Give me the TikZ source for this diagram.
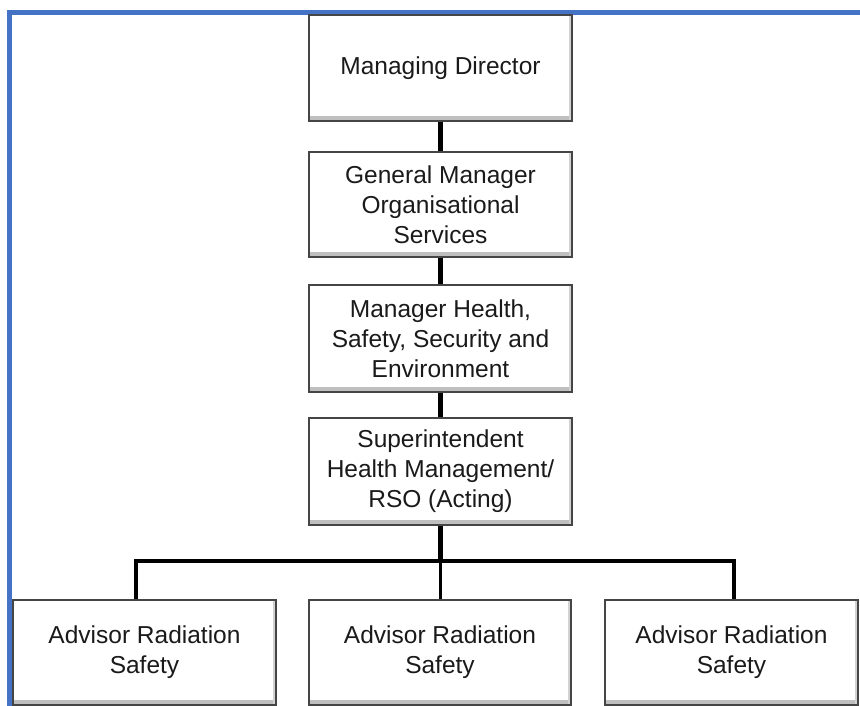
\documentclass[tikz,border=0pt]{standalone}
\usepackage{fontspec}
\setmainfont{Liberation Sans}
\definecolor{frameblue}{HTML}{4472C4}
\definecolor{boxedge}{HTML}{454545}
\definecolor{txt}{HTML}{1A1A1A}
\begin{document}
\begin{tikzpicture}[x=1pt,y=-1pt,
  orgbox/.style={draw=boxedge, line width=1.5pt, fill=white,
    minimum width=263pt, minimum height=106pt, inner sep=0pt,
    align=center, text=txt,
    font=\fontsize{24.5}{30}\selectfont,
    path picture={
      \fill[gray!50] ([yshift=5pt]path picture bounding box.south west) rectangle (path picture bounding box.south east);
      \fill[gray!35] ([xshift=-3pt]path picture bounding box.north east) rectangle (path picture bounding box.south east);
    }},
  link/.style={line width=4.2pt, black},
  buslink/.style={line width=3.4pt, black}]
\useasboundingbox (0,0) rectangle (860,706);
\fill[white] (0,0) rectangle (860,706);
% blue frame (top and left)
\draw[frameblue, line width=5.5pt, line join=miter] (9.5,706) -- (9.5,12.5) -- (860,12.5);

\node[orgbox] (md) at (440.5,68) {Managing Director};
\node[orgbox, minimum height=105pt] (gm) at (440.5,204.5) {General Manager\\Organisational\\Services};
\node[orgbox, minimum height=107pt] (mh) at (440.5,338.5) {Manager Health,\\Safety, Security and\\Environment};
\node[orgbox, minimum height=107pt] (sup) at (440.5,471.5) {Superintendent\\Health Management/\\RSO (Acting)};

\node[orgbox, minimum height=105pt] (a1) at (144.5,652.5) {Advisor Radiation\\Safety};
\node[orgbox, minimum width=262pt, minimum height=105pt] (a2) at (440,652.5) {Advisor Radiation\\Safety};
\node[orgbox, minimum width=253pt, minimum height=105pt] (a3) at (731.5,652.5) {Advisor Radiation\\Safety};

\draw[link] (md.south) -- (gm.north);
\draw[link] (gm.south) -- (mh.north);
\draw[link] (mh.south) -- (sup.north);

\coordinate (busM) at (440.5,561);
\coordinate (busL) at (136,561);
\coordinate (busR) at (734,561);
\draw[link] (sup.south) -- (busM);
\draw[buslink, line cap=rect] (busL) -- (busR);
\draw[buslink] (busL) -- (busL |- a1.north);
\draw[buslink] (busM) -- (busM |- a2.north);
\draw[buslink] (busR) -- (busR |- a3.north);
\end{tikzpicture}
\end{document}
